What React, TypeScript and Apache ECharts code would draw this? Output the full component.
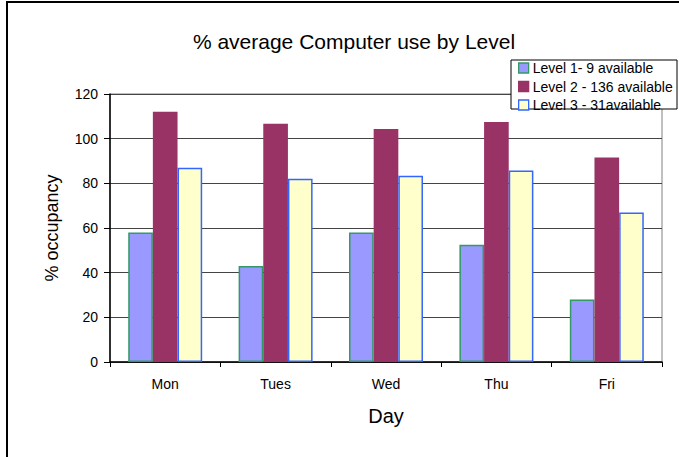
import React, { useEffect, useRef } from "react";
import * as echarts from "echarts";

const categories = ["Mon", "Tues", "Wed", "Thu", "Fri"];
const level1 = [58, 43, 58, 52.5, 28];
const level2 = [112, 106.7, 104.3, 107.5, 91.6];
const level3 = [87, 82, 83.4, 85.7, 66.9];
const seriesNames = ["Level 1- 9 available", "Level 2 - 136 available", "Level 3 - 31available"];
const yTicks = { min: 0, max: 120, interval: 20 };

const FONT = "Liberation Sans, Arial, sans-serif";

export default function App() {
  const ref = useRef<HTMLDivElement>(null);
  useEffect(() => {
    if (!ref.current) return;
    const chart = echarts.init(ref.current, null, { renderer: "svg" });
    const styles = [
      { color: "#9999FF", borderColor: "#339966", borderWidth: 1.5 },
      { color: "#993366", borderColor: "#993366", borderWidth: 0 },
      { color: "#FFFFCC", borderColor: "#3366FF", borderWidth: 1.5 },
    ];
    const datas = [level1, level2, level3];
    chart.setOption({
      animation: false,
      backgroundColor: "#ffffff",
      textStyle: { fontFamily: FONT },
      title: {
        text: "% average Computer use by Level",
        left: 349,
        top: 26,
        textAlign: "center",
        textStyle: { fontFamily: FONT, fontSize: 21, fontWeight: "normal", color: "#000" },
      },
      graphic: [
        {
          type: "rect",
          shape: { x: 7, y: 2, width: 700, height: 500 },
          style: { fill: "none", stroke: "#000", lineWidth: 2 },
          z: 100,
        },
        {
          type: "rect",
          shape: { x: 511, y: 60, width: 166, height: 49 },
          style: { fill: "#fff", stroke: "#000", lineWidth: 1 },
          z: 5,
        },
      ],
      legend: {
        orient: "vertical",
        left: 518,
        top: 61,
        padding: 0,
        itemWidth: 10,
        itemHeight: 10,
        itemGap: 4.5,
        z: 10,
        icon: "rect",
        textStyle: { fontFamily: FONT, fontSize: 14, color: "#000", lineHeight: 14, padding: [0, 0, 0, -1] },
        data: seriesNames.map((n, i) => ({ name: n, itemStyle: { ...styles[i], borderWidth: 1.3 } })),
      },
      grid: {
        left: 110,
        right: 17,
        top: 94,
        bottom: 95,
        show: true,
        borderColor: "#808080",
        borderWidth: 1,
      },
      xAxis: {
        type: "category",
        data: categories,
        name: "Day",
        nameLocation: "middle",
        nameGap: 44,
        nameTextStyle: { fontFamily: FONT, fontSize: 20, color: "#000" },
        axisLine: { lineStyle: { color: "#000", width: 1.5 } },
        axisTick: { show: true, length: 5, lineStyle: { color: "#000" } },
        axisLabel: { fontFamily: FONT, fontSize: 14, color: "#000", margin: 15 },
      },
      yAxis: {
        type: "value",
        min: yTicks.min,
        max: yTicks.max,
        interval: yTicks.interval,
        name: "% occupancy",
        nameLocation: "middle",
        nameGap: 49,
        nameRotate: 90,
        nameTextStyle: { fontFamily: FONT, fontSize: 18, color: "#000" },
        axisLine: { show: true, lineStyle: { color: "#000", width: 1.5 } },
        axisTick: { show: true, length: 6, lineStyle: { color: "#000" } },
        axisLabel: { fontFamily: FONT, fontSize: 14, color: "#000", margin: 12 },
        splitLine: { show: true, lineStyle: { color: "#444", width: 1 } },
      },
      series: datas.map((d, i) => ({
        name: seriesNames[i],
        type: "bar",
        data: d,
        barGap: "0%",
        barCategoryGap: "33%",
        itemStyle: styles[i],
      })),
    });
    return () => chart.dispose();
  }, []);
  return (
    <div
      ref={ref}
      style={{ position: "fixed", left: 0, top: 0, width: 679, height: 457 }}
    />
  );
}
